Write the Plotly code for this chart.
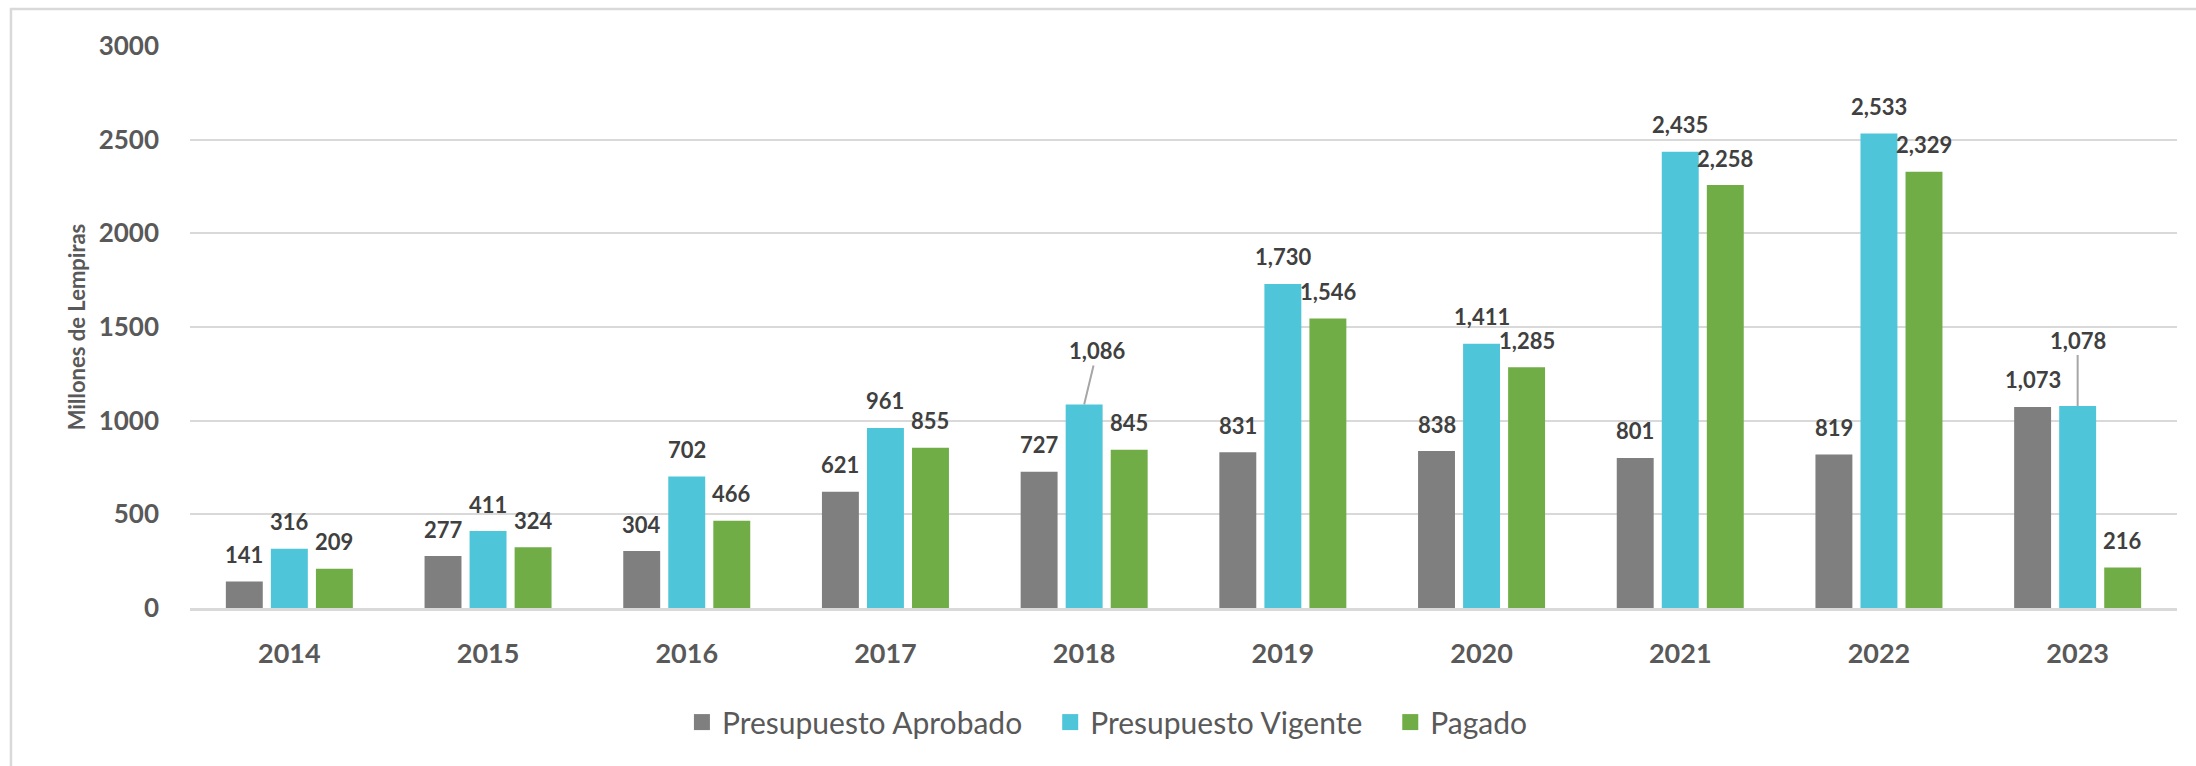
import plotly.graph_objects as go

# Datos (millones de lempiras)
anios = ["2014", "2015", "2016", "2017", "2018", "2019", "2020", "2021", "2022", "2023"]
aprobado = [141, 277, 304, 621, 727, 831, 838, 801, 819, 1073]
vigente = [316, 411, 702, 961, 1086, 1730, 1411, 2435, 2533, 1078]
pagado = [209, 324, 466, 855, 845, 1546, 1285, 2258, 2329, 216]

nombres = ["Presupuesto Aprobado", "Presupuesto Vigente", "Pagado"]
colores = ["#7F7F7F", "#4FC5D9", "#70AD47"]

FUENTE = "Lato"
GRIS_TXT = "#595959"
GRIS_ETQ = "#404040"

ANCHO, ALTO = 2196, 766
M_IZQ, M_DER, M_SUP, M_INF = 190, 19, 46, 158
BARGAP = 0.32

# etiquetas de "Presupuesto Vigente" con linea guia: (ax, ay) en pixeles
lineas_guia = {"2018": (13, -54), "2023": (0, -66)}


def fmt(v):
  return "{:,}".format(v)


fig = go.Figure()

for nombre, valores, color in zip(nombres, [aprobado, vigente, pagado], colores):
  fig.add_trace(go.Bar(
    x=anios, y=valores, name=nombre, showlegend=False,
    marker=dict(color=color, line=dict(width=0)),
    hovertemplate="%{x}: %{y:,}<extra>" + nombre + "</extra>",
  ))
  # entrada de leyenda con cuadro mas grande (y algo de aire despues del texto)
  fig.add_trace(go.Scatter(
    x=[None], y=[None], mode="markers", name=nombre + "\u00a0" * 3,
    marker=dict(symbol="square", size=18, color=color),
  ))

# etiquetas de datos sobre cada barra
ancho_cat = (ANCHO - M_IZQ - M_DER) / len(anios)
paso = (1 - BARGAP) / 3 * ancho_cat
fuente_etq = dict(family=FUENTE, size=22, color=GRIS_ETQ, weight="bold")
for k, (nombre, valores) in enumerate(zip(nombres, [aprobado, vigente, pagado])):
  for i, (anio, v) in enumerate(zip(anios, valores)):
    dx = (k - 1) * paso
    if nombre == "Presupuesto Vigente" and anio in lineas_guia:
      ax, ay = lineas_guia[anio]
      fig.add_annotation(
        x=i, y=v, xshift=dx, text=fmt(v), showarrow=True, arrowhead=0,
        arrowwidth=2, arrowcolor="#A6A6A6", ax=ax, ay=ay, standoff=0,
        font=fuente_etq,
      )
    else:
      fig.add_annotation(
        x=i, y=v, xshift=dx, yshift=27, yanchor="middle", text=fmt(v),
        showarrow=False, font=fuente_etq,
      )

# marco exterior del grafico
fig.add_shape(
  type="rect", xref="paper", yref="paper",
  x0=-0.0901, x1=1.012, y0=-0.30, y1=1.0658,
  line=dict(color="#D9D9D9", width=2.5), fillcolor="rgba(0,0,0,0)", layer="below",
)

fig.update_layout(
  width=ANCHO, height=ALTO,
  margin=dict(l=M_IZQ, r=M_DER, t=M_SUP, b=M_INF),
  paper_bgcolor="white", plot_bgcolor="white",
  barmode="group", bargap=BARGAP, bargroupgap=0.18,
  font=dict(family=FUENTE, color=GRIS_TXT),
  legend=dict(
    orientation="h", x=0.4675, xanchor="center", y=-0.203, yanchor="middle",
    font=dict(family=FUENTE, size=30, color=GRIS_TXT),
    itemwidth=30, traceorder="normal",
  ),
  showlegend=True,
)

fig.update_xaxes(
  type="category", range=[-0.5, len(anios) - 0.5],
  showgrid=False, showline=True, linecolor="#D9D9D9", linewidth=2.5,
  ticks="", tickfont=dict(family=FUENTE, size=27, color=GRIS_TXT, weight="bold"),
  ticklabelstandoff=20,
)

fig.update_yaxes(
  range=[0, 3000], dtick=500, showgrid=True, gridcolor="#D9D9D9", gridwidth=2,
  zeroline=False, showline=False, ticks="",
  tickfont=dict(family=FUENTE, size=26, color=GRIS_TXT, weight="bold"),
  ticklabelstandoff=30,
  title=dict(text="Millones de Lempiras", standoff=6,
             font=dict(family=FUENTE, size=22, color=GRIS_TXT, weight="bold")),
)

fig.write_html("out.html", config={"displayModeBar": False},
               post_script="document.body.style.margin='0';")
